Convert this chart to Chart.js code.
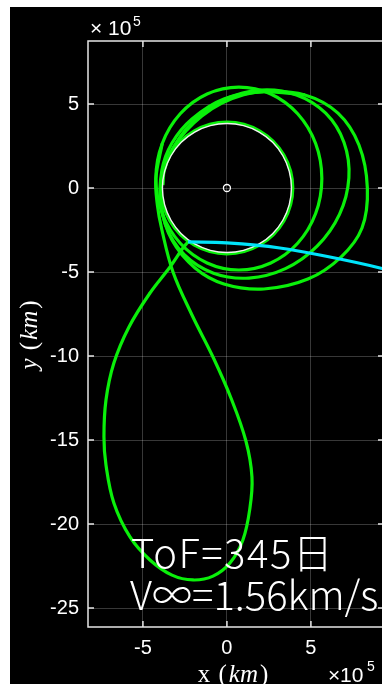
<!DOCTYPE html>
<html>
<head>
<meta charset="utf-8">
<script src="https://cdn.jsdelivr.net/npm/chart.js@4"></script>
<style>
  html, body { margin: 0; padding: 0; background: #fff; overflow: hidden; width: 382px; height: 684px; }
  #plot { position: absolute; left: 10px; top: 7px; }
</style>
</head>
<body>
<canvas id="plot" width="380" height="677"></canvas>
<script>
// all values in units of 10^5 km (axes show x10^5)
const xTicks = [-5, 0, 5];
const yTicks = [5, 0, -5, -10, -15, -20, -25];

// Moon orbit (white, closed)
const moonOrbit = [[3.84,0],[3.71,0.99],[3.33,1.92],[2.72,2.72],[1.92,3.33],[0.99,3.71],[0,3.84],[-0.99,3.71],
  [-1.92,3.33],[-2.72,2.72],[-3.33,1.92],[-3.71,0.99],[-3.84,0],[-3.71,-0.99],[-3.33,-1.92],[-2.72,-2.72],
  [-1.92,-3.33],[-0.99,-3.71],[0,-3.84],[0.99,-3.71],[1.92,-3.33],[2.72,-2.72],[3.33,-1.92],[3.71,-0.99]];

// green phasing loops (closed)
const loopA = [[3.92,0],[3.39,1.96],[1.96,3.39],[0,3.92],[-1.96,3.39],[-3.39,1.96],[-3.92,0],[-3.39,-1.96],
  [-1.96,-3.39],[0,-3.92],[1.96,-3.39],[3.39,-1.96]];
const loop1 = [[5.65,0.57],[5.28,2.65],[4.21,4.42],[2.61,5.60],[0.71,6.01],[-1.18,5.60],[-2.78,4.42],[-3.85,2.65],
  [-4.23,0.57],[-3.85,-1.52],[-2.78,-3.29],[-1.18,-4.46],[0.71,-4.88],[2.61,-4.46],[4.21,-3.29],[5.28,-1.52]];
const loop2 = [[5.88,4.45],[6.97,2.71],[7.26,0.60],[6.70,-1.57],[5.37,-3.46],[3.48,-4.80],[1.31,-5.36],[-0.80,-5.07],
  [-2.54,-3.97],[-3.64,-2.23],[-3.93,-0.12],[-3.36,2.05],[-2.04,3.94],[-0.14,5.27],[2.02,5.83],[4.14,5.54]];
const loop3 = [[8.36,0],[8.04,-2.38],[6.79,-4.11],[4.82,-5.42],[2.20,-6.01],[-0.18,-5.71],[-1.90,-4.76],[-3.27,-3.10],
  [-3.93,-1.01],[-3.87,1.07],[-3.27,2.68],[-2.08,4.11],[-0.18,5.30],[2.20,5.74],[4.64,5.54],[6.61,4.46],[7.86,2.56]];
// open pieces
const branch = [[-3.81,0.18],[-3.69,1.37],[-3.21,2.38],[-2.44,3.39],[-1.49,4.29],[-0.30,5.05],[1.00,5.55],
  [2.20,5.74],[4.64,5.54]];
const teardrop = [[-3.85,2.65],[-4.23,0.57],[-4.14,-1.01],[-3.87,-2.50],[-3.21,-5.00],[-2.08,-7.56],[-0.83,-10.06],
  [0.24,-12.50],[1.13,-15.06],[1.49,-17.20],[1.37,-19.05],[0.95,-20.95],[0.18,-22.32],[-0.83,-23.10],[-2.02,-23.33],
  [-3.27,-23.04],[-4.58,-22.14],[-5.77,-20.77],[-6.73,-18.75],[-7.20,-16.49],[-7.32,-14.82],[-7.20,-12.62],
  [-6.73,-10.42],[-5.83,-8.27],[-4.58,-6.25],[-3.39,-4.70],[-2.62,-3.57],[-2.32,-3.21]];
// escape leg (cyan)
const escapeLeg = [[-2.32,-3.21],[0,-3.27],[3.15,-3.57],[6.13,-4.11],[9.11,-4.76],[10.3,-5.12]];
const earth = [[0,0]];

const tofText = 'ToF=345日';
const vinfText = 'V∞=1.56km/s';

const pts = a => a.map(([x, y]) => ({x: x, y: y}));
const green = 'rgb(10,240,10)';

function greenSet(a, closed, t) {
  return { data: pts(a), closed: closed, showLine: true, borderColor: green, borderWidth: 3.2, pointRadius: 0,
           tension: t || 0.34, fill: false, borderJoinStyle: 'round' };
}

// closed orbits: reuse the loop flag that radar lines use
const closeLoops = {
  id: 'closeLoops',
  afterDatasetsUpdate(chart) {
    chart.data.datasets.forEach((ds, i) => {
      const line = chart.getDatasetMeta(i).dataset;
      if (ds.closed && line) {
        line._loop = true;
        line._fullLoop = true;
        line._pointsUpdated = false;
        delete line._segments;
        line._path = undefined;
      }
    });
  }
};

const frame = {
  id: 'frame',
  beforeDraw(chart) {
    const c = chart.ctx;
    c.save();
    c.fillStyle = '#000';
    c.fillRect(0, 0, chart.width, chart.height);
    c.restore();
  },
  afterDatasetsDraw(chart) {
    const c = chart.ctx, a = chart.chartArea, sx = chart.scales.x, sy = chart.scales.y;
    c.save();
    c.strokeStyle = '#e6e6e6';
    c.lineWidth = 1.5;
    c.strokeRect(a.left, a.top, a.right - a.left, a.bottom - a.top);
    c.beginPath();
    xTicks.forEach(v => {
      const p = sx.getPixelForValue(v);
      c.moveTo(p, a.bottom); c.lineTo(p, a.bottom - 6);
      c.moveTo(p, a.top); c.lineTo(p, a.top + 6);
    });
    yTicks.forEach(v => {
      const p = sy.getPixelForValue(v);
      c.moveTo(a.left, p); c.lineTo(a.left + 6, p);
      c.moveTo(a.right, p); c.lineTo(a.right - 6, p);
    });
    c.stroke();

    // exponent labels
    c.fillStyle = '#fff';
    c.textBaseline = 'alphabetic';
    c.font = '21px "Liberation Sans", Arial, sans-serif';
    c.fillText('×', 80, 28); c.fillText('10', 98, 28);
    c.fillText('×', 318, 675); c.fillText('10', 330, 675);
    c.font = '14px "Liberation Sans", Arial, sans-serif';
    c.fillText('5', 123, 19);
    c.fillText('5', 357, 664);

    // axis labels
    function label(v) {
      const parts = [[v, v === 'x' ? '' : 'italic '], [' (', ''], ['km', 'italic '], [')', '']];
      let w = 0;
      parts.forEach(p => { c.font = p[1] + '25px "Liberation Serif", serif'; w += c.measureText(p[0]).width + 2; });
      let pos = -w / 2;
      parts.forEach(p => {
        c.font = p[1] + '25px "Liberation Serif", serif';
        c.fillText(p[0], pos, 0);
        pos += c.measureText(p[0]).width + 2;
      });
    }
    c.save();
    c.translate(224, 675);
    label('x');
    c.restore();
    c.save();
    c.translate(27, 327);
    c.rotate(-Math.PI / 2);
    label('y');
    c.restore();

    // annotation
    c.font = '300 40px "Noto Sans CJK JP", "Noto Sans", sans-serif';
    c.letterSpacing = '1.5px';
    c.fillText(tofText, 121, 561);
    c.letterSpacing = '0px';
    c.fillText(vinfText, 120, 603);
    c.restore();
  }
};

const tickFont = { family: '"Liberation Sans", Arial, sans-serif', size: 20 };

new Chart(document.getElementById('plot'), {
  type: 'scatter',
  data: {
    datasets: [
      { data: pts(earth), pointRadius: 3.5, pointBorderColor: '#fff', pointBackgroundColor: 'rgba(0,0,0,0)', pointBorderWidth: 1.3 },
      { data: pts(escapeLeg), showLine: true, borderColor: 'rgb(0,228,250)', borderWidth: 3.2, pointRadius: 0, tension: 0.38 },
      { data: pts(moonOrbit), closed: true, showLine: true, borderColor: '#f0f0f0', borderWidth: 1.4, pointRadius: 0, tension: 0.34 },
      greenSet(loopA, true),
      greenSet(branch, false, 0.38),
      greenSet(loop1, true),
      greenSet(loop2, true),
      greenSet(loop3, true),
      greenSet(teardrop, false, 0.38)
    ]
  },
  options: {
    responsive: false,
    animation: false,
    events: [],
    layout: { padding: { top: 34, right: 6, left: 0, bottom: 0 } },
    plugins: { legend: { display: false }, tooltip: { enabled: false } },
    scales: {
      x: {
        type: 'linear', min: -8.27, max: 9.35,
        afterBuildTicks: s => { s.ticks = xTicks.map(v => ({ value: v })); },
        afterFit: s => { s.height = 57; },
        grid: { color: 'rgba(255,255,255,0.22)', drawTicks: false },
        border: { display: false },
        ticks: { color: '#fff', font: tickFont, padding: 9 }
      },
      y: {
        type: 'linear', min: -26.13, max: 8.75,
        afterBuildTicks: s => { s.ticks = yTicks.map(v => ({ value: v })); },
        afterFit: s => { s.width = 78; },
        grid: { color: 'rgba(255,255,255,0.22)', drawTicks: false },
        border: { display: false },
        ticks: { color: '#fff', font: tickFont, padding: 9 }
      }
    }
  },
  plugins: [closeLoops, frame]
});
</script>
</body>
</html>
